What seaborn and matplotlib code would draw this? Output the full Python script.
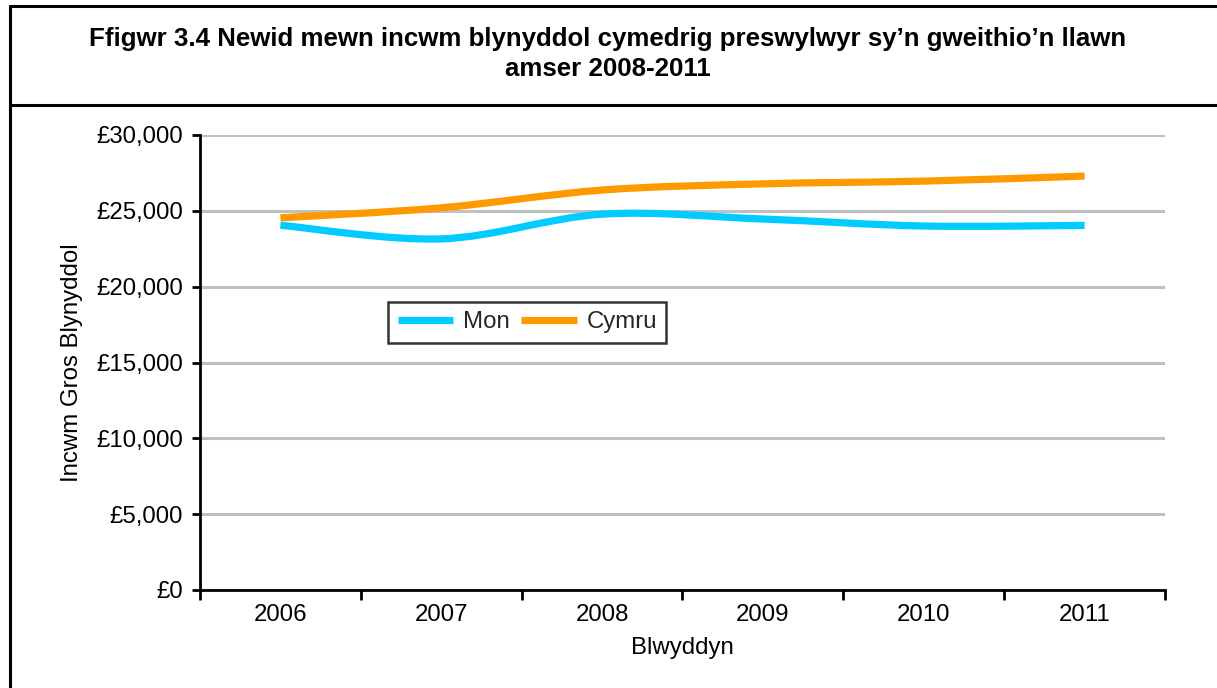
import numpy as np
import pandas as pd
import matplotlib
matplotlib.use("Agg")
import matplotlib.pyplot as plt
from matplotlib.path import Path
from matplotlib.patches import PathPatch
from matplotlib.lines import Line2D
import matplotlib.ticker as mticker
import seaborn as sns

# Annual gross income data
years = ["2006", "2007", "2008", "2009", "2010", "2011"]
mon = [24050, 23150, 24780, 24460, 24000, 24040]
cymru = [24540, 25200, 26370, 26780, 26960, 27290]
series_names = ["Mon", "Cymru"]
series_colors = {"Mon": "#00CCFF", "Cymru": "#FF9900"}
y_ticks = [0, 5000, 10000, 15000, 20000, 25000, 30000]

title = "Ffigwr 3.4 Newid mewn incwm blynyddol cymedrig preswylwyr sy\u2019n gweithio\u2019n llawn\namser 2008-2011"
x_label = "Blwyddyn"
y_label = "Incwm Gros Blynyddol"

df = pd.DataFrame({
    "pos": list(range(len(years))) * 2,
    "value": mon + cymru,
    "series": ["Mon"] * len(years) + ["Cymru"] * len(years),
})

sns.set_theme(style="white")
plt.rcParams["font.family"] = ["Liberation Sans", "DejaVu Sans"]

W, H = 1217, 688
fig = plt.figure(figsize=(W / 100, H / 100), dpi=100)
fig.patch.set_facecolor("white")

ax = fig.add_axes([200 / W, 1 - 590 / H, 965 / W, 455 / H])

sns.lineplot(data=df, x="pos", y="value", hue="series", hue_order=series_names,
             palette=series_colors, linewidth=5.2, ax=ax, legend=False)


def smooth_path(xs, ys):
    """Bezier path through the points, in the style of a smoothed spreadsheet line."""
    pts = np.column_stack([xs, ys]).astype(float)
    n = len(pts)
    verts = [pts[0]]
    codes = [Path.MOVETO]
    for i in range(n - 1):
        p0 = pts[i - 1] if i > 0 else pts[i]
        p1 = pts[i]
        p2 = pts[i + 1]
        p3 = pts[i + 2] if i + 2 < n else pts[i + 1]
        c1 = p1 + (p2 - p0) / 6.0
        c2 = p2 - (p3 - p1) / 6.0
        verts += [c1, c2, p2]
        codes += [Path.CURVE4] * 3
    return Path(verts, codes)


# Replace the straight polylines with smoothed curves of the same style
handles = []
for line, name in zip(ax.lines, series_names):
    xs, ys = line.get_xdata(), line.get_ydata()
    patch = PathPatch(smooth_path(xs, ys), facecolor="none",
                      edgecolor=line.get_color(), linewidth=line.get_linewidth(),
                      capstyle="butt", joinstyle="round", zorder=3)
    ax.add_patch(patch)
    handles.append(Line2D([], [], color=line.get_color(), linewidth=5.2,
                          solid_capstyle="butt", label=name))
    line.set_visible(False)

ax.set_xlim(-0.5, len(years) - 0.5)
ax.set_ylim(0, 30000)
ax.set_yticks(y_ticks)
ax.yaxis.set_major_formatter(mticker.FuncFormatter(lambda v, p: "\u00a3{:,.0f}".format(v)))
ax.set_xticks(range(len(years)))
ax.set_xticklabels(years)
ax.set_xticks(np.arange(-0.5, len(years)), minor=True)

ax.grid(axis="y", color="#C0C0C0", linewidth=2.2, zorder=0)
ax.grid(axis="x", visible=False)
ax.set_axisbelow(True)

for side in ["top", "right"]:
    ax.spines[side].set_visible(False)
for side in ["left", "bottom"]:
    ax.spines[side].set_color("black")
    ax.spines[side].set_linewidth(2)
    ax.spines[side].set_zorder(4)

ax.tick_params(axis="y", which="major", left=True, length=6, width=2, color="black",
               labelsize=17.3, pad=6, labelcolor="black")
ax.tick_params(axis="x", which="major", bottom=False, length=0, labelsize=17.3,
               pad=10, labelcolor="black")
ax.tick_params(axis="x", which="minor", bottom=True, length=7, width=2, color="black")

ax.set_xlabel(x_label, fontsize=17.3, color="black", labelpad=8)
ax.set_ylabel(y_label, fontsize=17.3, color="black", labelpad=10)

leg = ax.legend(handles=handles, loc="lower left", bbox_to_anchor=(0.195, 0.543),
                ncol=2, frameon=True, fontsize=17.3, handlelength=2.3,
                columnspacing=0.5, handletextpad=0.4, borderpad=0.4,
                borderaxespad=0, fancybox=False)
leg.get_frame().set_edgecolor("black")
leg.get_frame().set_linewidth(1.8)

# Outer frame and title box divider
fig.add_artist(Line2D([10 / W, 10 / W], [0, 1 - 6 / H], color="black", linewidth=2.2))
fig.add_artist(Line2D([10 / W, 1], [1 - 6 / H, 1 - 6 / H], color="black", linewidth=2.2))
fig.add_artist(Line2D([10 / W, 1], [1 - 105 / H, 1 - 105 / H], color="black", linewidth=2.2))

fig.text(608 / W, 1 - 54 / H, title, ha="center", va="center", fontsize=18.6,
         fontweight="bold", color="black", linespacing=1.35)

fig.savefig("out.png", dpi=100, facecolor="white")
